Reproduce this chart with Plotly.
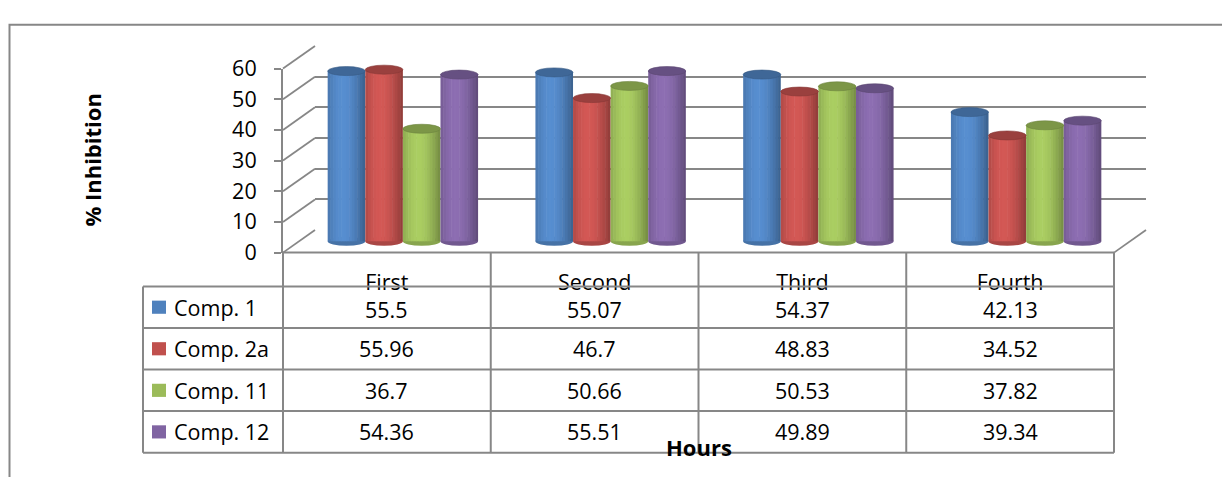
import math
import plotly.graph_objects as go

# ---------------- data ----------------
categories = ["First", "Second", "Third", "Fourth"]
series_names = ["Comp. 1", "Comp. 2a", "Comp. 11", "Comp. 12"]
comp1 = [55.5, 55.07, 54.37, 42.13]
comp2a = [55.96, 46.7, 48.83, 34.52]
comp11 = [36.7, 50.66, 50.53, 37.82]
comp12 = [54.36, 55.51, 49.89, 39.34]
y_ticks = [0, 10, 20, 30, 40, 50, 60]
series_colors = ["#4F81BD", "#C0504D", "#9BBB59", "#8064A2"]
y_title = "% Inhibition"
x_title = "Hours"

series_values = [comp1, comp2a, comp11, comp12]

# ---------------- geometry (pixels) ----------------
W, H = 1222, 477
FX0, FX1 = 283, 1114          # front floor edge
DX, DY = 32, 24               # depth offset of back wall
Y0 = 253                      # front zero line
YMAX = 60
PXU = 196 / YMAX              # pixels per unit
CAT_PX = (FX1 - FX0) / len(categories)
BAR_PX = 37.6
LEG_X = 143
ROW_TOP = 289
ROW_BOT = 466
ROW_H = (ROW_BOT - ROW_TOP) / len(series_names)
GRID = "#878787"
FONT = "Open Sans"
FS = 21.5
FS_T = 22


def px(x):
    return x / W


def py(y):
    return 1 - y / H


def shade(hexc, f):
    r, g, b = (int(hexc[i:i + 2], 16) for i in (1, 3, 5))
    r, g, b = (max(0, min(255, int(round(c * f)))) for c in (r, g, b))
    return f"rgb({r},{g},{b})"


fig = go.Figure()

# invisible traces so the helper subplots exist
fig.add_trace(go.Scatter(x=[0], y=[0], xaxis="x", yaxis="y", mode="markers",
                         marker=dict(opacity=0), hoverinfo="skip", showlegend=False))
fig.add_trace(go.Scatter(x=[0], y=[0], xaxis="x2", yaxis="y2", mode="markers",
                         marker=dict(opacity=0), hoverinfo="skip", showlegend=False))

# ---------------- cylinders (bars drawn as shaded slices) ----------------
barw = BAR_PX / CAT_PX
N = 14
eh = 4.8 / PXU   # half-height of ellipse caps in data units
xs = list(range(len(categories)))
shapes = []
for s, (vals, col) in enumerate(zip(series_values, series_colors)):
    start = (s - len(series_values) / 2) * barw
    sw = barw / N
    for k in range(N):
        t = (k + 0.5) / N
        f = 0.78 + 0.32 * math.cos((t - 0.4) * 0.9 * math.pi)
        w = sw * 1.2 if k < N - 1 else sw
        fig.add_trace(go.Bar(
            x=xs, y=vals, xaxis="x3", yaxis="y3",
            offset=[start + k * sw] * len(xs), width=[w] * len(xs),
            marker=dict(color=shade(col, f), line=dict(width=0)),
            name=series_names[s], showlegend=False, hoverinfo="skip"))
    for i, v in enumerate(vals):
        x0 = i + start
        # bottom cap
        shapes.append(dict(type="circle", xref="x3", yref="y3", layer="below",
                           x0=x0, x1=x0 + barw, y0=-eh, y1=eh,
                           fillcolor=shade(col, 0.88), line=dict(width=0)))
        # top cap
        shapes.append(dict(type="circle", xref="x3", yref="y3", layer="above",
                           x0=x0, x1=x0 + barw, y0=v - eh, y1=v + eh,
                           fillcolor=shade(col, 0.8),
                           line=dict(width=0.6, color=shade(col, 0.7))))

# ---------------- frame lines ----------------
def line(x0, y0, x1, y1, w=2, color=GRID):
    shapes.append(dict(type="line", xref="paper", yref="paper", layer="above",
                       x0=px(x0), y0=py(y0), x1=px(x1), y1=py(y1),
                       line=dict(color=color, width=w)))

# depth diagonals from front ticks to back wall
for v in y_ticks:
    line(FX0, Y0 - v * PXU, FX0 + DX, Y0 - DY - v * PXU, 1.8)
# right floor diagonal
line(FX1, Y0, FX1 + DX, Y0 - DY, 1.8)
# floor front edge / table top
line(FX0, Y0, FX1, Y0)
# table horizontal lines
for r in range(len(series_names) + 1):
    yy = ROW_TOP + r * ROW_H
    line(LEG_X, yy, FX1, yy)
# table vertical lines
line(LEG_X, ROW_TOP, LEG_X, ROW_BOT)
for c in range(len(categories) + 1):
    xx = FX0 + c * CAT_PX
    line(xx, Y0, xx, ROW_BOT)

# outer chart border
shapes.append(dict(type="rect", xref="paper", yref="paper", layer="above",
                   x0=px(9.5), y0=py(10.5), x1=1.1, y1=-0.1,
                   line=dict(color=GRID, width=2), fillcolor="rgba(0,0,0,0)"))

# legend keys in table
annotations = []
for r, (name, col) in enumerate(zip(series_names, series_colors)):
    cy = ROW_TOP + (r + 0.5) * ROW_H
    ty = cy + (2 if r == 0 else 0)
    shapes.append(dict(type="rect", xref="paper", yref="paper", layer="above",
                       x0=px(152), x1=px(166), y0=py(cy - 7), y1=py(cy + 7),
                       fillcolor=col, line=dict(width=0)))
    annotations.append(dict(xref="paper", yref="paper", x=px(172), y=py(cy),
                            xanchor="left", yanchor="middle", showarrow=False,
                            text=name, font=dict(family=FONT, size=FS, color="black")))
    for c, v in enumerate(series_values[r]):
        annotations.append(dict(xref="paper", yref="paper",
                                x=px(FX0 + (c + 0.5) * CAT_PX), y=py(ty),
                                xanchor="center", yanchor="middle", showarrow=False,
                                text=str(v), font=dict(family=FONT, size=FS, color="black")))

annotations.append(dict(xref="paper", yref="paper", x=px(92), y=py(155),
                        xanchor="center", yanchor="middle", showarrow=False, textangle=-90,
                        text=f"<b>{y_title}</b>", font=dict(family=FONT, size=FS_T, color="black")))
annotations.append(dict(xref="paper", yref="paper", x=px(699), y=py(460),
                        xanchor="center", yanchor="middle", showarrow=False,
                        text=f"<b>{x_title}</b>", font=dict(family=FONT, size=FS_T, color="black")))

# bars subplot vertical extent (mid depth)
ymid0 = Y0 - DY / 2
b_lo, b_hi = -3, 63

fig.update_layout(
    width=W, height=H, autosize=False,
    margin=dict(l=0, r=0, t=0, b=0),
    paper_bgcolor="white", plot_bgcolor="rgba(0,0,0,0)",
    barmode="overlay", showlegend=False,
    font=dict(family=FONT, color="black"),
    # back wall grid
    xaxis=dict(domain=[px(FX0 + DX), px(FX1 + DX)], range=[0, 1], visible=False,
               anchor="y", fixedrange=True),
    yaxis=dict(domain=[py(Y0 - DY), py(Y0 - DY - YMAX * PXU)], range=[0, YMAX],
               anchor="x", tickvals=y_ticks, showgrid=True, gridcolor=GRID, gridwidth=1.8,
               showticklabels=False, zeroline=False, showline=False, ticks="",
               fixedrange=True),
    # front axis and category labels
    xaxis2=dict(domain=[px(FX0), px(FX1)], range=[-0.5, len(categories) - 0.5],
                anchor="y2", tickvals=xs, ticktext=categories, showgrid=False,
                zeroline=False, showline=False, ticks="", ticklabelstandoff=15,
                tickfont=dict(family=FONT, size=FS, color="black"), fixedrange=True),
    yaxis2=dict(domain=[py(Y0), py(Y0 - YMAX * PXU)], range=[0, YMAX], anchor="x2",
                tickvals=y_ticks, showgrid=False, zeroline=False, showline=True,
                linecolor=GRID, linewidth=2, ticks="outside", ticklen=7, tickwidth=2,
                tickcolor=GRID, ticklabelstandoff=13,
                tickfont=dict(family=FONT, size=FS, color="black"), fixedrange=True),
    # cylinders
    xaxis3=dict(domain=[px(FX0 + DX / 2), px(FX1 + DX / 2)],
                range=[-0.5, len(categories) - 0.5], anchor="y3", visible=False,
                fixedrange=True),
    yaxis3=dict(domain=[py(ymid0 - b_lo * PXU), py(ymid0 - b_hi * PXU)],
                range=[b_lo, b_hi], anchor="x3", visible=False, fixedrange=True),
    shapes=shapes,
    annotations=annotations,
)

fig.write_html("out.html")
